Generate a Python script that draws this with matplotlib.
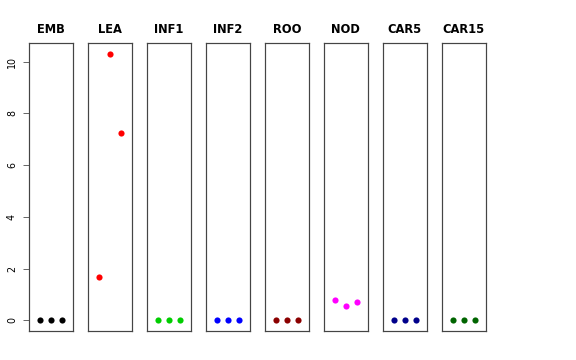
import matplotlib
matplotlib.use("Agg")
import matplotlib.pyplot as plt

tissues = ["EMB", "LEA", "INF1", "INF2", "ROO", "NOD", "CAR5", "CAR15"]
colors = ["black", "red", "#00CD00", "blue", "#8B0000", "magenta", "#00008B", "#006400"]
values = [
    [0, 0, 0],
    [1.66, 10.31, 7.26],
    [0, 0, 0],
    [0, 0, 0],
    [0, 0, 0],
    [0.77, 0.54, 0.69],
    [0, 0, 0],
    [0, 0, 0],
]
reps = [1, 2, 3]
yticks = [0, 2, 4, 6, 8, 10]

fig = plt.figure(figsize=(8, 5), dpi=72)
ymax = max(max(v) for v in values)
pad = ymax * 0.04

for i, (name, col, vals) in enumerate(zip(tissues, colors, values)):
    ax = fig.add_axes([0.0503 + i * 0.1024, 0.0806, 0.0764, 0.8])
    ax.scatter(reps, vals, color=col, s=38, zorder=3, linewidths=0)
    ax.set_xlim(0, 4)
    ax.set_ylim(-pad, ymax + pad)
    ax.set_xticks([])
    ax.set_title(name, fontsize=11.5, fontweight="bold", pad=10)
    for sp in ax.spines.values():
        sp.set_color("#444444")
        sp.set_linewidth(1.2)
    if i == 0:
        ax.set_yticks(yticks)
        ax.set_yticklabels([str(t) for t in yticks], rotation=90, va="center", fontsize=9.5)
        ax.tick_params(axis="y", length=6, pad=6, color="#444444")
    else:
        ax.set_yticks([])

fig.savefig("out.png", dpi=72)
